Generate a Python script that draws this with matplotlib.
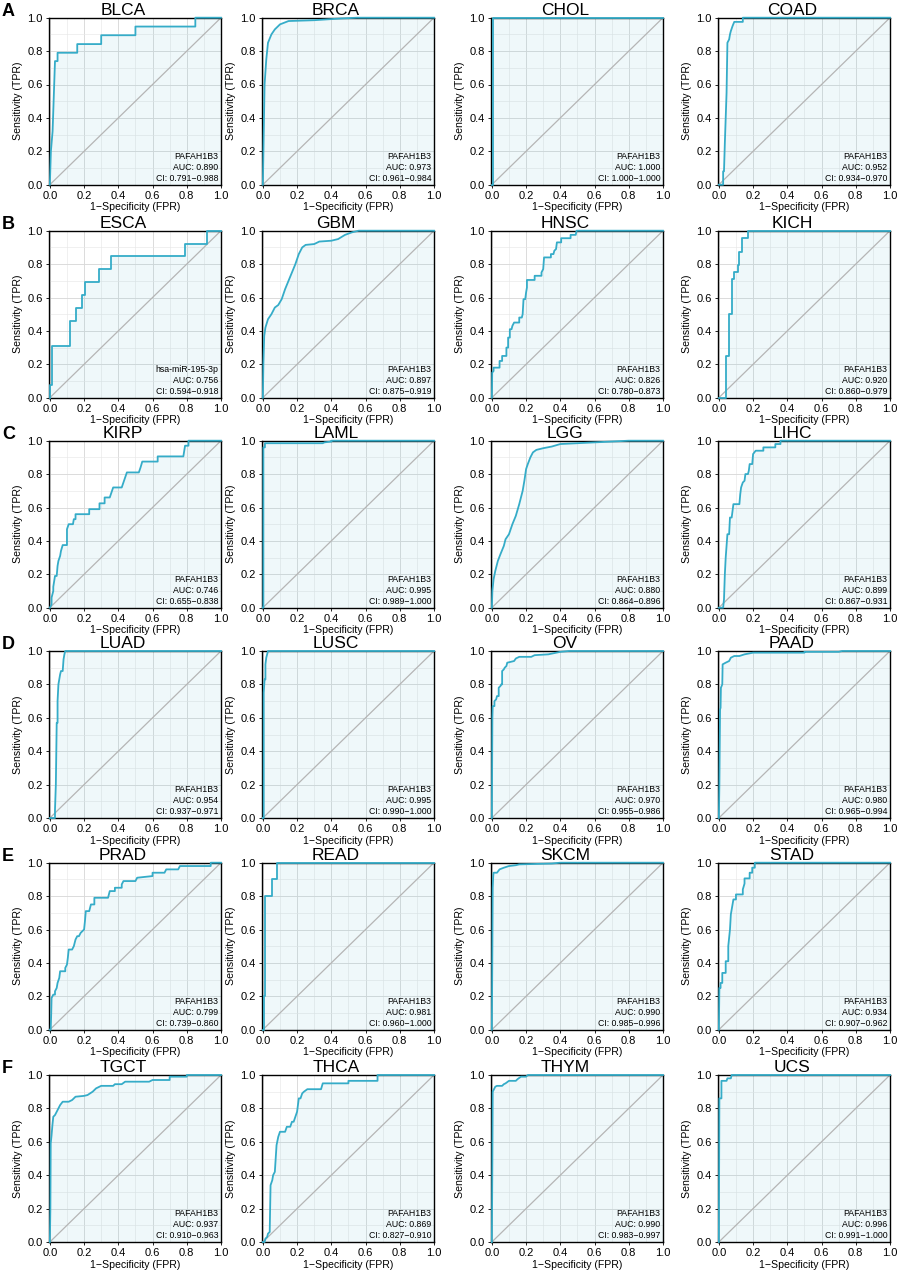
import matplotlib
matplotlib.use('Agg')
import matplotlib.pyplot as plt
from matplotlib.ticker import MultipleLocator

plt.rcParams['font.family'] = ['Liberation Sans', 'DejaVu Sans']

# 各癌种名称与注释
cancers = ['BLCA', 'BRCA', 'CHOL', 'COAD', 'ESCA', 'GBM', 'HNSC', 'KICH',
           'KIRP', 'LAML', 'LGG', 'LIHC', 'LUAD', 'LUSC', 'OV', 'PAAD',
           'PRAD', 'READ', 'SKCM', 'STAD', 'TGCT', 'THCA', 'THYM', 'UCS']
genes = ['PAFAH1B3'] * 4 + ['hsa-miR-195-3p'] + ['PAFAH1B3'] * 19
auc = [0.890, 0.973, 1.000, 0.952, 0.756, 0.897, 0.826, 0.920,
       0.746, 0.995, 0.880, 0.899, 0.954, 0.995, 0.970, 0.980,
       0.799, 0.981, 0.990, 0.934, 0.937, 0.869, 0.990, 0.996]
ci_low = [0.791, 0.961, 1.000, 0.934, 0.594, 0.875, 0.780, 0.860,
          0.655, 0.989, 0.864, 0.867, 0.937, 0.990, 0.955, 0.965,
          0.739, 0.960, 0.985, 0.907, 0.910, 0.827, 0.983, 0.991]
ci_high = [0.988, 0.984, 1.000, 0.970, 0.918, 0.919, 0.873, 0.979,
           0.838, 1.000, 0.896, 0.931, 0.971, 1.000, 0.986, 0.994,
           0.860, 1.000, 0.996, 0.962, 0.963, 0.910, 0.997, 1.000]
row_letters = ['A', 'B', 'C', 'D', 'E', 'F']

# ROC 曲线（从图中读取的近似顶点）
blca_fpr = [0, 0.006, 0.016, 0.03, 0.03, 0.045, 0.045, 0.16, 0.16, 0.30, 0.30, 0.50, 0.50, 0.85, 0.85, 1]
blca_tpr = [0, 0.2, 0.32, 0.74, 0.74, 0.74, 0.79, 0.79, 0.842, 0.842, 0.895, 0.895, 0.947, 0.947, 1, 1]
brca_fpr = [0, 0.005, 0.01, 0.02, 0.03, 0.05, 0.07, 0.1, 0.15, 0.3, 0.45, 0.55, 1]
brca_tpr = [0, 0.3, 0.6, 0.75, 0.85, 0.9, 0.93, 0.96, 0.98, 0.985, 0.995, 1, 1]
chol_fpr = [0, 0.004, 0.004, 1]
chol_tpr = [0, 0, 1, 1]
coad_fpr = [0, 0.025, 0.025, 0.03, 0.035, 0.045, 0.05, 0.06, 0.065, 0.07, 0.08, 0.09, 0.14, 0.14, 1]
coad_tpr = [0, 0, 0.08, 0.08, 0.25, 0.55, 0.85, 0.87, 0.9, 0.92, 0.95, 0.975, 0.975, 1, 1]
esca_fpr = [0, 0, 0.012, 0.012, 0.12, 0.12, 0.15, 0.15, 0.19, 0.19, 0.205, 0.205, 0.29, 0.29, 0.355, 0.355, 0.79, 0.79, 0.92, 0.92, 1]
esca_tpr = [0, 0.077, 0.077, 0.308, 0.308, 0.462, 0.462, 0.538, 0.538, 0.615, 0.615, 0.692, 0.692, 0.769, 0.769, 0.846, 0.846, 0.923, 0.923, 1, 1]
gbm_fpr = [0, 0.003, 0.008, 0.015, 0.03, 0.05, 0.07, 0.09, 0.11, 0.13, 0.15, 0.17, 0.19, 0.21, 0.23, 0.25, 0.3, 0.33, 0.4, 0.44, 0.48, 0.52, 0.56, 1]
gbm_tpr = [0, 0.2, 0.37, 0.42, 0.47, 0.5, 0.54, 0.555, 0.59, 0.65, 0.70, 0.75, 0.80, 0.86, 0.90, 0.915, 0.92, 0.935, 0.94, 0.95, 0.975, 0.99, 1, 1]
hnsc_fpr = [0, 0.002, 0.01, 0.01, 0.045, 0.045, 0.06, 0.06, 0.085, 0.085, 0.095, 0.095, 0.105, 0.105, 0.115, 0.12, 0.13, 0.16, 0.16, 0.175, 0.18, 0.185, 0.195, 0.2, 0.205, 0.205, 0.25, 0.25, 0.29, 0.29, 0.3, 0.305, 0.345, 0.345, 0.36, 0.365, 0.375, 0.38, 0.405, 0.405, 0.46, 0.46, 0.49, 0.495, 1]
hnsc_tpr = [0, 0.15, 0.16, 0.18, 0.18, 0.22, 0.22, 0.25, 0.25, 0.3, 0.3, 0.36, 0.36, 0.41, 0.41, 0.43, 0.45, 0.45, 0.48, 0.48, 0.5, 0.59, 0.59, 0.63, 0.66, 0.705, 0.705, 0.73, 0.73, 0.75, 0.77, 0.84, 0.84, 0.86, 0.86, 0.88, 0.89, 0.93, 0.93, 0.955, 0.955, 0.975, 0.975, 1, 1]
kich_fpr = [0, 0.043, 0.043, 0.057, 0.057, 0.076, 0.076, 0.09, 0.09, 0.11, 0.11, 0.12, 0.12, 0.135, 0.135, 0.17, 0.17, 1]
kich_tpr = [0, 0, 0.25, 0.25, 0.5, 0.5, 0.708, 0.708, 0.75, 0.75, 0.792, 0.792, 0.875, 0.875, 0.958, 0.958, 1, 1]
kirp_fpr = [0, 0.01, 0.01, 0.02, 0.02, 0.03, 0.04, 0.045, 0.05, 0.06, 0.065, 0.075, 0.1, 0.1, 0.11, 0.135, 0.14, 0.15, 0.15, 0.23, 0.23, 0.29, 0.29, 0.32, 0.32, 0.35, 0.36, 0.37, 0.42, 0.43, 0.44, 0.45, 0.52, 0.53, 0.54, 0.63, 0.63, 0.78, 0.79, 0.81, 0.81, 1]
kirp_tpr = [0, 0.02, 0.06, 0.1, 0.125, 0.19, 0.19, 0.25, 0.28, 0.31, 0.34, 0.375, 0.375, 0.47, 0.5, 0.5, 0.53, 0.53, 0.56, 0.56, 0.59, 0.59, 0.625, 0.625, 0.66, 0.66, 0.69, 0.72, 0.72, 0.75, 0.78, 0.81, 0.81, 0.84, 0.875, 0.875, 0.906, 0.906, 0.97, 0.97, 1, 1]
laml_fpr = [0, 0.003, 0.003, 0.012, 0.012, 0.35, 0.36, 0.4, 0.4, 1]
laml_tpr = [0, 0, 0.96, 0.96, 0.985, 0.985, 0.99, 0.995, 1, 1]
lgg_fpr = [0, 0.003, 0.01, 0.02, 0.035, 0.05, 0.07, 0.08, 0.1, 0.12, 0.14, 0.16, 0.18, 0.19, 0.2, 0.21, 0.225, 0.24, 0.26, 0.3, 0.35, 0.4, 0.5, 0.6, 0.7, 0.8, 1]
lgg_tpr = [0, 0.1, 0.17, 0.22, 0.28, 0.32, 0.37, 0.41, 0.44, 0.5, 0.55, 0.62, 0.7, 0.76, 0.83, 0.86, 0.9, 0.93, 0.945, 0.955, 0.965, 0.98, 0.985, 0.99, 0.995, 1, 1]
lihc_fpr = [0, 0.025, 0.03, 0.035, 0.04, 0.05, 0.06, 0.065, 0.075, 0.08, 0.085, 0.12, 0.125, 0.13, 0.14, 0.15, 0.155, 0.17, 0.175, 0.18, 0.195, 0.2, 0.215, 0.26, 0.26, 0.33, 0.33, 0.36, 0.36, 1]
lihc_tpr = [0, 0, 0.05, 0.2, 0.3, 0.44, 0.44, 0.54, 0.54, 0.58, 0.62, 0.62, 0.68, 0.72, 0.75, 0.76, 0.8, 0.8, 0.82, 0.86, 0.86, 0.92, 0.94, 0.94, 0.96, 0.96, 0.98, 0.98, 1, 1]
luad_fpr = [0, 0.03, 0.03, 0.035, 0.04, 0.045, 0.045, 0.05, 0.06, 0.065, 0.075, 0.08, 0.085, 0.09, 1]
luad_tpr = [0, 0, 0.05, 0.2, 0.57, 0.57, 0.7, 0.8, 0.86, 0.88, 0.88, 0.95, 0.98, 1, 1]
lusc_fpr = [0, 0.005, 0.005, 0.01, 0.015, 0.015, 0.02, 0.025, 0.03, 1]
lusc_tpr = [0, 0, 0.75, 0.83, 0.83, 0.92, 0.96, 0.98, 1, 1]
ov_fpr = [0, 0.003, 0.005, 0.015, 0.015, 0.025, 0.03, 0.04, 0.04, 0.05, 0.055, 0.06, 0.06, 0.07, 0.075, 0.085, 0.09, 0.13, 0.14, 0.16, 0.23, 0.25, 0.33, 0.4, 0.45, 1]
ov_tpr = [0, 0.6, 0.67, 0.67, 0.7, 0.71, 0.73, 0.73, 0.78, 0.79, 0.8, 0.8, 0.88, 0.89, 0.9, 0.91, 0.93, 0.94, 0.955, 0.965, 0.965, 0.975, 0.98, 0.995, 1, 1]
paad_fpr = [0, 0.003, 0.007, 0.01, 0.012, 0.02, 0.022, 0.04, 0.06, 0.07, 0.09, 0.12, 0.15, 0.2, 0.5, 0.5, 0.7, 0.72, 1]
paad_tpr = [0, 0.2, 0.65, 0.66, 0.78, 0.8, 0.92, 0.93, 0.94, 0.96, 0.97, 0.97, 0.98, 0.99, 0.99, 0.995, 0.995, 1, 1]
prad_fpr = [0, 0.005, 0.008, 0.01, 0.02, 0.03, 0.03, 0.04, 0.045, 0.055, 0.06, 0.09, 0.09, 0.1, 0.105, 0.11, 0.13, 0.14, 0.15, 0.16, 0.17, 0.18, 0.2, 0.205, 0.21, 0.23, 0.24, 0.26, 0.26, 0.34, 0.35, 0.38, 0.38, 0.42, 0.42, 0.43, 0.5, 0.51, 0.6, 0.6, 0.67, 0.68, 0.75, 0.76, 0.94, 0.94, 1]
prad_tpr = [0, 0, 0.1, 0.19, 0.21, 0.21, 0.23, 0.25, 0.28, 0.31, 0.35, 0.35, 0.37, 0.39, 0.43, 0.48, 0.48, 0.5, 0.54, 0.56, 0.56, 0.58, 0.6, 0.65, 0.71, 0.71, 0.75, 0.75, 0.79, 0.79, 0.83, 0.83, 0.85, 0.85, 0.87, 0.89, 0.89, 0.91, 0.92, 0.94, 0.94, 0.96, 0.96, 0.98, 0.98, 1, 1]
read_fpr = [0, 0.005, 0.005, 0.01, 0.01, 0.015, 0.015, 0.055, 0.055, 0.085, 0.085, 1]
read_tpr = [0, 0, 0.2, 0.2, 0.5, 0.5, 0.8, 0.8, 0.9, 0.9, 1, 1]
skcm_fpr = [0, 0.003, 0.005, 0.008, 0.01, 0.03, 0.045, 0.07, 0.1, 0.14, 0.16, 0.35, 0.4, 1]
skcm_tpr = [0, 0.5, 0.85, 0.92, 0.94, 0.94, 0.96, 0.97, 0.98, 0.985, 0.99, 0.995, 1, 1]
stad_fpr = [0, 0.003, 0.01, 0.01, 0.02, 0.02, 0.04, 0.04, 0.055, 0.055, 0.065, 0.07, 0.075, 0.08, 0.085, 0.1, 0.1, 0.14, 0.14, 0.15, 0.15, 0.18, 0.18, 0.195, 0.195, 0.21, 0.21, 1]
stad_tpr = [0, 0.25, 0.25, 0.28, 0.28, 0.34, 0.34, 0.41, 0.41, 0.5, 0.6, 0.69, 0.72, 0.75, 0.78, 0.78, 0.81, 0.81, 0.84, 0.875, 0.906, 0.906, 0.94, 0.94, 0.97, 0.97, 1, 1]
tgct_fpr = [0, 0.003, 0.005, 0.01, 0.015, 0.02, 0.03, 0.04, 0.05, 0.06, 0.075, 0.11, 0.13, 0.15, 0.2, 0.22, 0.25, 0.27, 0.3, 0.37, 0.38, 0.42, 0.44, 0.58, 0.6, 0.7, 0.7, 0.8, 0.8, 1]
tgct_tpr = [0, 0.2, 0.59, 0.64, 0.7, 0.75, 0.76, 0.78, 0.8, 0.82, 0.84, 0.84, 0.85, 0.87, 0.875, 0.88, 0.9, 0.92, 0.935, 0.935, 0.945, 0.945, 0.96, 0.96, 0.97, 0.97, 0.99, 0.99, 1, 1]
thca_fpr = [0, 0.01, 0.015, 0.025, 0.03, 0.04, 0.045, 0.055, 0.06, 0.07, 0.075, 0.08, 0.09, 0.1, 0.13, 0.14, 0.16, 0.17, 0.18, 0.19, 0.2, 0.21, 0.22, 0.23, 0.24, 0.26, 0.34, 0.35, 0.5, 0.5, 0.67, 0.67, 1]
thca_tpr = [0, 0, 0.02, 0.03, 0.05, 0.06, 0.34, 0.37, 0.4, 0.42, 0.5, 0.58, 0.63, 0.66, 0.66, 0.69, 0.69, 0.72, 0.72, 0.75, 0.78, 0.86, 0.86, 0.89, 0.9, 0.915, 0.915, 0.95, 0.95, 0.965, 0.965, 1, 1]
thym_fpr = [0, 0.003, 0.005, 0.01, 0.02, 0.03, 0.06, 0.07, 0.08, 0.1, 0.14, 0.15, 0.17, 0.2, 0.21, 1]
thym_tpr = [0, 0.5, 0.9, 0.91, 0.93, 0.935, 0.935, 0.945, 0.95, 0.965, 0.965, 0.975, 0.99, 0.99, 1, 1]
ucs_fpr = [0, 0.003, 0.015, 0.015, 0.045, 0.05, 0.07, 0.075, 1]
ucs_tpr = [0, 0.86, 0.86, 0.965, 0.965, 0.98, 0.98, 1, 1]

fpr_list = [blca_fpr, brca_fpr, chol_fpr, coad_fpr, esca_fpr, gbm_fpr, hnsc_fpr, kich_fpr,
            kirp_fpr, laml_fpr, lgg_fpr, lihc_fpr, luad_fpr, lusc_fpr, ov_fpr, paad_fpr,
            prad_fpr, read_fpr, skcm_fpr, stad_fpr, tgct_fpr, thca_fpr, thym_fpr, ucs_fpr]
tpr_list = [blca_tpr, brca_tpr, chol_tpr, coad_tpr, esca_tpr, gbm_tpr, hnsc_tpr, kich_tpr,
            kirp_tpr, laml_tpr, lgg_tpr, lihc_tpr, luad_tpr, lusc_tpr, ov_tpr, paad_tpr,
            prad_tpr, read_tpr, skcm_tpr, stad_tpr, tgct_tpr, thca_tpr, thym_tpr, ucs_tpr]

W, H = 899, 1272
col_left = [49, 262, 491, 718]
row_top = [17.7, 230.7, 440.7, 651, 862.7, 1075]
pw, ph = 172, 167

line_col = '#35acc8'
fig = plt.figure(figsize=(W / 100, H / 100), dpi=100)

for i, name in enumerate(cancers):
    r, c = divmod(i, 4)
    ax = fig.add_axes([col_left[c] / W, 1 - (row_top[r] + ph) / H, pw / W, ph / H])
    x, y = fpr_list[i], tpr_list[i]
    ax.fill_between(x, y, 0, color=line_col, alpha=0.08, linewidth=0, zorder=1)
    ax.plot([0, 1], [0, 1], color='#b5b5b5', lw=0.9, zorder=2)
    ax.plot(x, y, color=line_col, lw=1.3, zorder=5, clip_on=False)
    ax.set_xlim(-0.005, 1.0)
    ax.set_ylim(0, 1.0)
    ax.xaxis.set_major_locator(MultipleLocator(0.2))
    ax.yaxis.set_major_locator(MultipleLocator(0.2))
    ax.xaxis.set_minor_locator(MultipleLocator(0.1))
    ax.yaxis.set_minor_locator(MultipleLocator(0.1))
    ax.grid(which='major', color='#d9d9d9', lw=0.65, zorder=0)
    ax.grid(which='minor', color='#e8e8e8', lw=0.45, zorder=0)
    ax.set_axisbelow(True)
    ax.tick_params(which='major', length=2.5, width=0.6, pad=2, labelsize=8)
    ax.tick_params(which='minor', length=0)
    ax.xaxis.set_major_formatter(plt.FuncFormatter(lambda v, p: f'{v:.1f}'))
    ax.yaxis.set_major_formatter(plt.FuncFormatter(lambda v, p: f'{v:.1f}'))
    for s in ax.spines.values():
        s.set_linewidth(1.0)
        s.set_color('black')
    ax.set_xlabel('1\u2212Specificity (FPR)', fontsize=7.6, labelpad=1)
    ax.set_ylabel('Sensitivity (TPR)', fontsize=7.6, labelpad=3)
    ax.text(0.43, 1.0, name, transform=ax.transAxes, ha='center', va='bottom', fontsize=12.5)
    ax.text(0.985, 0.17, genes[i], ha='right', va='center', fontsize=6.3)
    ax.text(0.985, 0.104, f'AUC: {auc[i]:.3f}', ha='right', va='center', fontsize=6.3)
    ax.text(0.985, 0.038, f'CI: {ci_low[i]:.3f}\u2212{ci_high[i]:.3f}', ha='right', va='center', fontsize=6.3)

# 行标签 A-F
for r, letter in enumerate(row_letters):
    fig.text(2 / W, 1 - (row_top[r] + 2) / H, letter, ha='left', va='bottom',
             fontsize=13, fontweight='bold')

plt.savefig('out.png', dpi=100)
